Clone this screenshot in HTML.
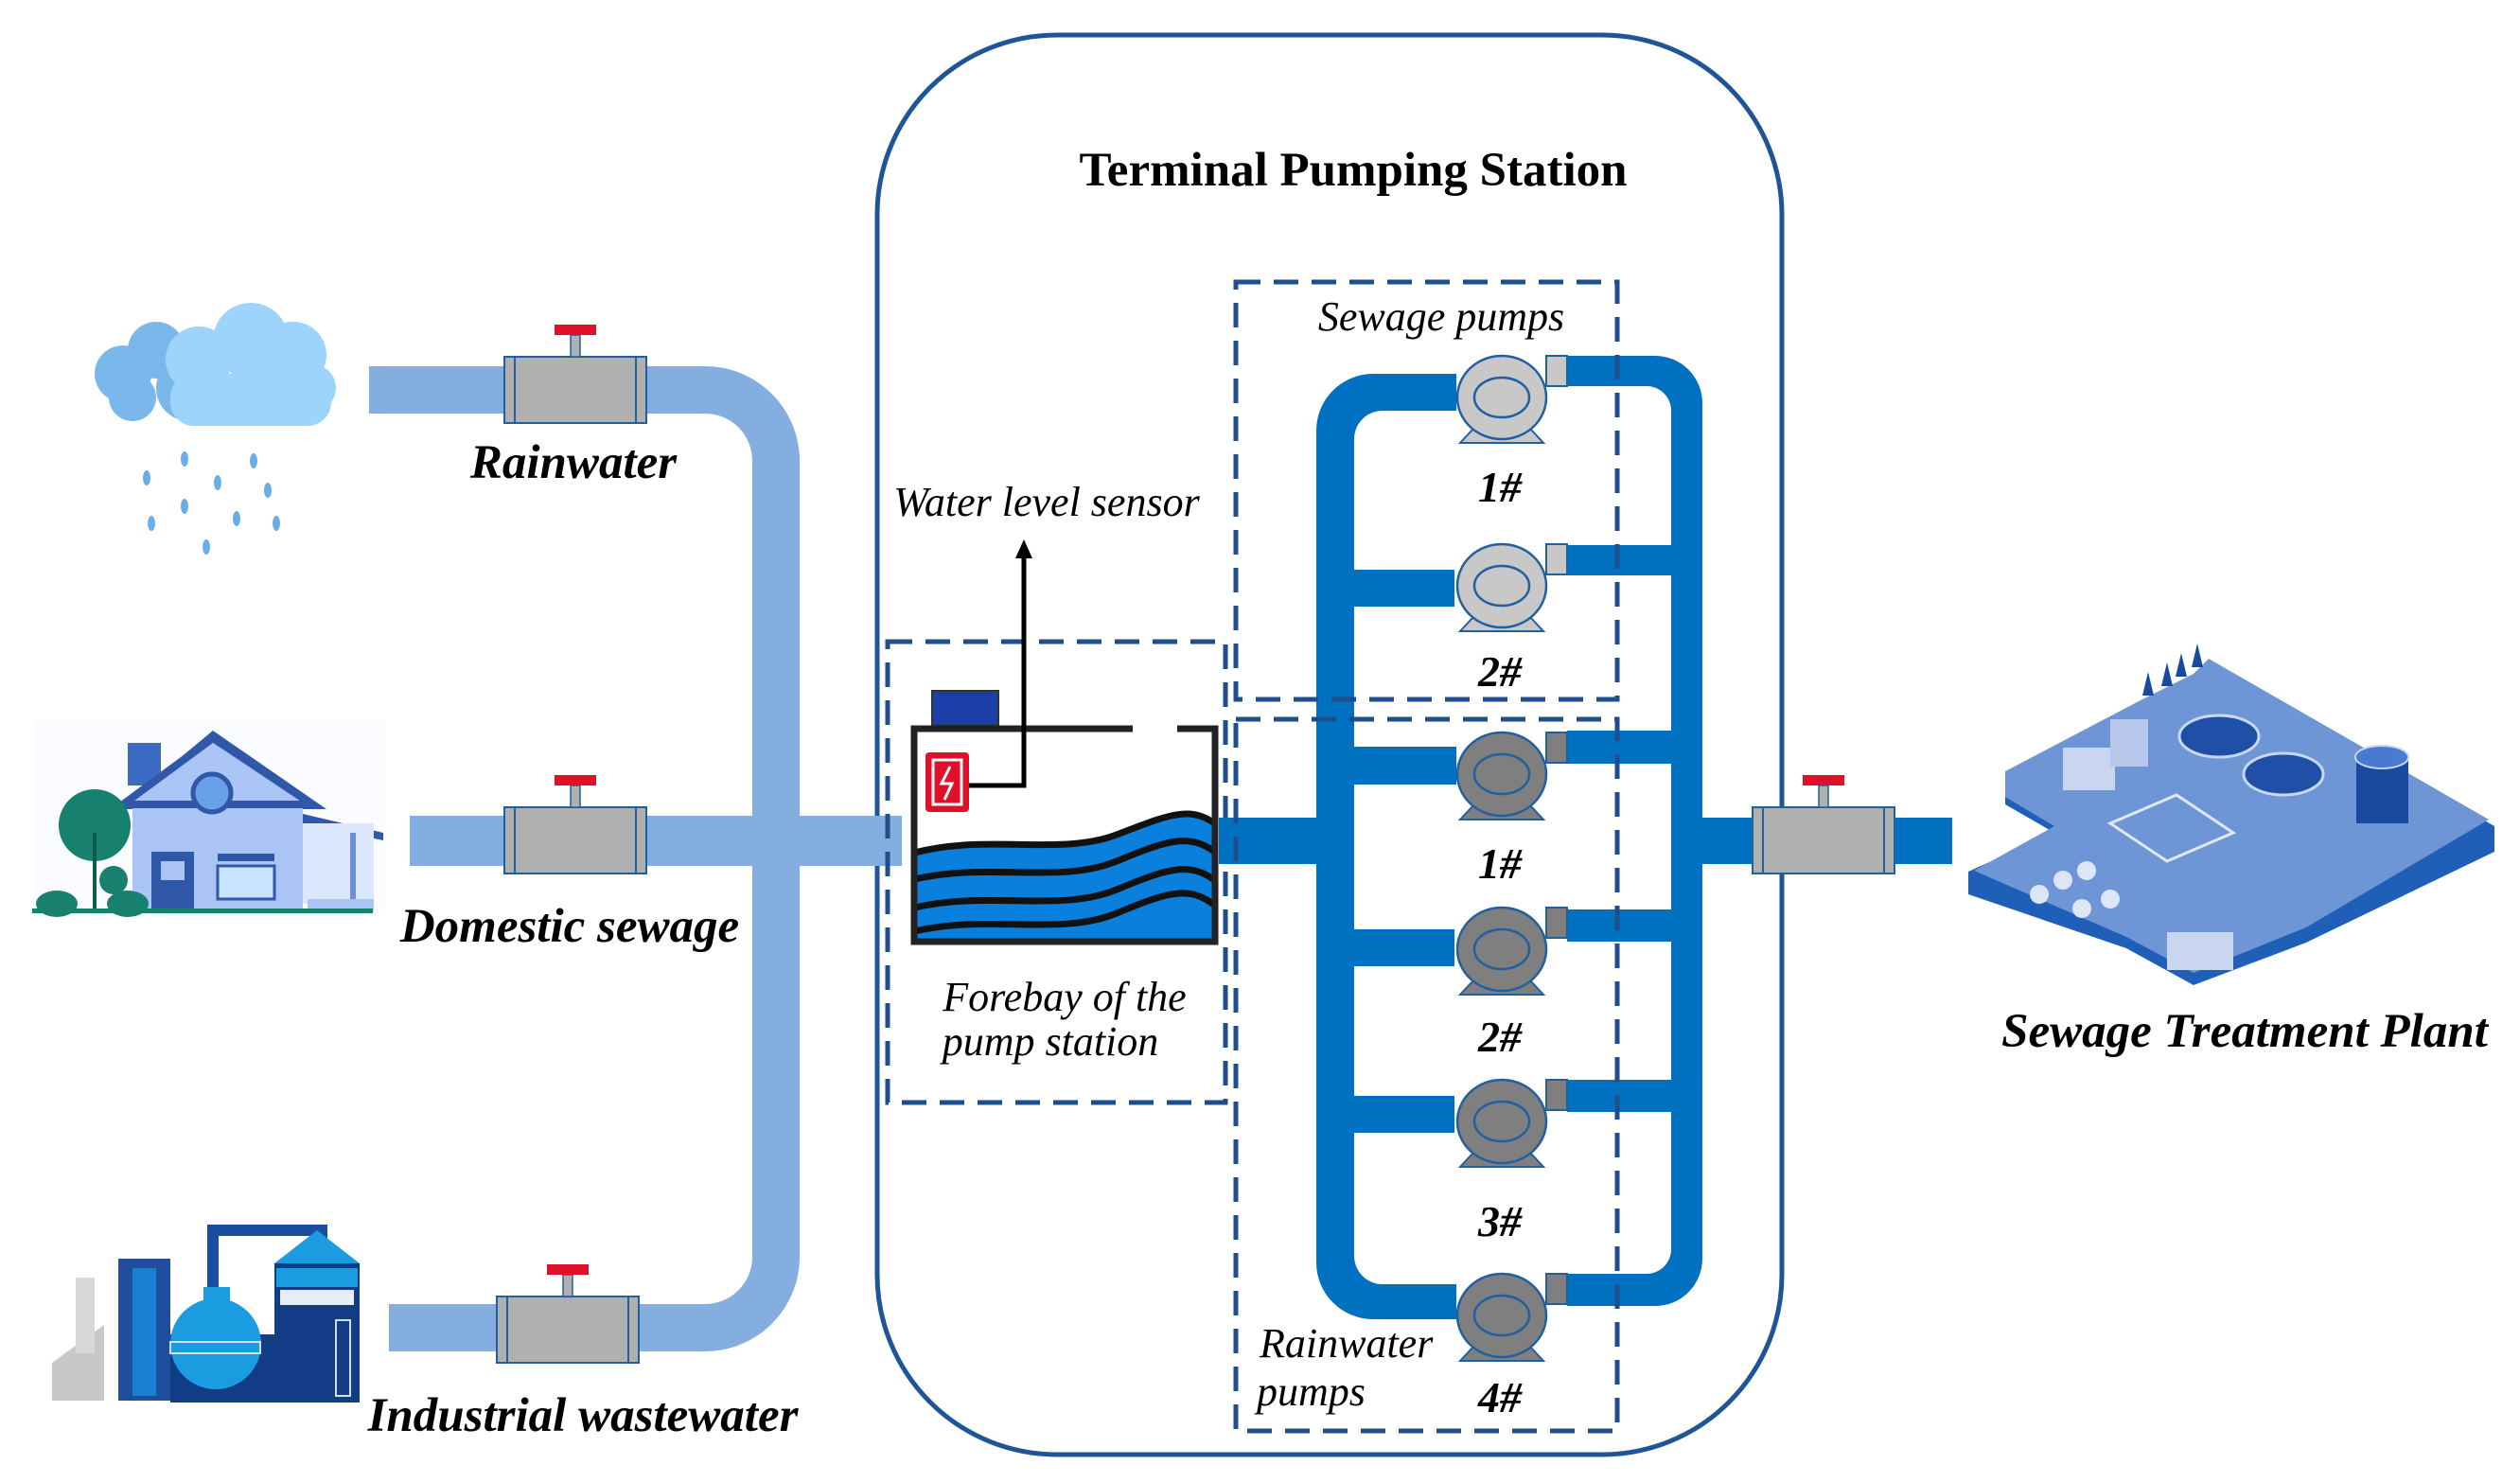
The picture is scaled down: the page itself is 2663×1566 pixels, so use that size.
<!DOCTYPE html>
<html><head><meta charset="utf-8"><style>
html,body{margin:0;padding:0;background:#fff}
svg{display:block}
svg text{font-family:"Liberation Serif","Times New Roman",serif !important}
.lbl{font-weight:bold;font-style:italic;font-size:51px;fill:#000}
.it{font-style:italic;font-size:44px;fill:#000}
.num{font-weight:bold;font-style:italic;font-size:46px;fill:#000}
</style></head><body>
<svg width="2663" height="1566" viewBox="0 0 2663 1566" xmlns="http://www.w3.org/2000/svg" font-family="Liberation Serif, serif">
<defs>
<g id="valve">
<rect x="-75" y="-35" width="150" height="70" fill="#b0b0b0" stroke="#2060a0" stroke-width="2"/>
<rect x="-75" y="-35" width="11" height="70" fill="#b0b0b0" stroke="#2060a0" stroke-width="2"/>
<rect x="64" y="-35" width="11" height="70" fill="#b0b0b0" stroke="#2060a0" stroke-width="2"/>
<rect x="-5" y="-58" width="10" height="23" fill="#b0b0b0" stroke="#2060a0" stroke-width="1.5"/>
<rect x="-22" y="-69" width="44" height="11" fill="#e0102a"/>
</g>
<g id="pumpL">
<rect x="47" y="-44" width="22" height="32" fill="#c8c8c8" stroke="#2060a0" stroke-width="2"/>
<path d="M-44 48 L-30 33 L30 33 L44 48 Z" fill="#c8c8c8" stroke="#2060a0" stroke-width="2"/>
<ellipse cx="0" cy="0" rx="47" ry="44" fill="#c8c8c8" stroke="#2060a0" stroke-width="2.5"/>
<ellipse cx="0" cy="0" rx="29" ry="21" fill="#c8c8c8" stroke="#2060a0" stroke-width="2.5"/>
</g>
<g id="pumpD">
<rect x="47" y="-44" width="22" height="32" fill="#7f7f7f" stroke="#2060a0" stroke-width="2"/>
<path d="M-44 48 L-30 33 L30 33 L44 48 Z" fill="#7f7f7f" stroke="#2060a0" stroke-width="2"/>
<ellipse cx="0" cy="0" rx="47" ry="44" fill="#7f7f7f" stroke="#2060a0" stroke-width="2.5"/>
<ellipse cx="0" cy="0" rx="29" ry="21" fill="#7f7f7f" stroke="#2060a0" stroke-width="2.5"/>
</g>
</defs>

<rect x="927" y="37" width="956" height="1500" rx="190" ry="190" fill="none" stroke="#1f5597" stroke-width="5"/>
<text x="1430" y="196" text-anchor="middle" font-family="Liberation Serif, serif" font-weight="bold" font-size="51">Terminal Pumping Station</text>

<g fill="#84aee0">
<path d="M390 387 H745 A100 100 0 0 1 845 487 V1328 A100 100 0 0 1 745 1428 H411 V1378 H745 A50 50 0 0 0 795 1328 V487 A50 50 0 0 0 745 437 H390 Z"/>
<rect x="433" y="862" width="520" height="53"/>
</g>
<use href="#valve" x="608" y="412"/>
<use href="#valve" x="608" y="888"/>
<use href="#valve" x="600" y="1405"/>
<text class="lbl" x="606" y="505" text-anchor="middle" font-family="Liberation Serif, serif">Rainwater</text>
<text class="lbl" x="602" y="995" text-anchor="middle" font-family="Liberation Serif, serif">Domestic sewage</text>
<text class="lbl" x="616" y="1512" text-anchor="middle" font-family="Liberation Serif, serif">Industrial wastewater</text>

<g>
<circle cx="130" cy="395" r="30" fill="#7ab8ec"/>
<circle cx="165" cy="370" r="30" fill="#7ab8ec"/>
<circle cx="140" cy="420" r="25" fill="#7ab8ec"/>
<circle cx="200" cy="410" r="35" fill="#7ab8ec"/>
<circle cx="210" cy="380" r="35" fill="#9dd4fb"/>
<circle cx="265" cy="360" r="40" fill="#9dd4fb"/>
<circle cx="310" cy="375" r="35" fill="#9dd4fb"/>
<circle cx="330" cy="410" r="25" fill="#9dd4fb"/>
<rect x="180" y="395" width="170" height="55" rx="25" fill="#9dd4fb"/>
</g>
<g fill="#6aaee8">
<ellipse cx="155" cy="505" rx="4" ry="8"/><ellipse cx="195" cy="485" rx="4" ry="8"/><ellipse cx="230" cy="510" rx="4" ry="8"/><ellipse cx="268" cy="487" rx="4" ry="8"/><ellipse cx="283" cy="518" rx="4" ry="8"/>
<ellipse cx="195" cy="535" rx="4" ry="8"/><ellipse cx="160" cy="553" rx="4" ry="8"/><ellipse cx="250" cy="548" rx="4" ry="8"/><ellipse cx="292" cy="553" rx="4" ry="8"/><ellipse cx="218" cy="578" rx="4" ry="8"/>
</g>

<g>
<rect x="34" y="760" width="373" height="205" fill="#fafcff"/>
<rect x="135" y="785" width="35" height="45" fill="#3b6bc2"/>
<polygon points="125,855 225,772 345,855" fill="#2f58a8"/>
<rect x="140" y="845" width="180" height="118" fill="#a9c4f5"/>
<polygon points="130,850 225,780 330,850" fill="#a9c4f5" stroke="#2f58a8" stroke-width="8"/>
<polygon points="320,860 405,880 405,888 320,870" fill="#2f58a8"/>
<rect x="320" y="870" width="75" height="85" fill="#dde8ff"/>
<rect x="370" y="880" width="6" height="75" fill="#6c8fd6"/>
<circle cx="224" cy="838" r="20" fill="#6aa0e8" stroke="#2f58a8" stroke-width="5"/>
<rect x="160" y="900" width="45" height="63" fill="#2f58a8"/>
<rect x="170" y="910" width="25" height="20" fill="#a9c4f5"/>
<rect x="230" y="902" width="60" height="8" fill="#2f58a8"/>
<rect x="230" y="915" width="60" height="35" fill="#c8e3ff" stroke="#2f58a8" stroke-width="3"/>
<rect x="325" y="950" width="70" height="12" fill="#a9c4f5"/>
<circle cx="100" cy="872" r="38" fill="#17806f"/>
<rect x="98" y="880" width="4" height="80" fill="#0d5c50"/>
<circle cx="120" cy="930" r="15" fill="#17806f"/>
<ellipse cx="60" cy="955" rx="22" ry="14" fill="#17806f"/>
<ellipse cx="135" cy="955" rx="22" ry="14" fill="#17806f"/>
<rect x="34" y="960" width="360" height="5" fill="#17806f"/>
</g>

<g>
<polygon points="55,1480 55,1440 110,1400 110,1480" fill="#c8c8c8"/>
<rect x="80" y="1350" width="20" height="80" fill="#d8d8d8"/>
<rect x="125" y="1330" width="55" height="150" fill="#1f4e9c"/>
<rect x="140" y="1340" width="25" height="135" fill="#1a7fd0"/>
<rect x="180" y="1410" width="200" height="72" fill="#123c86"/>
<path d="M225 1380 V1300 H340 V1330" fill="none" stroke="#1a4ea0" stroke-width="12"/>
<circle cx="228" cy="1420" r="48" fill="#1b9be0"/>
<rect x="215" y="1360" width="28" height="20" fill="#1b9be0"/>
<rect x="180" y="1418" width="95" height="12" fill="none" stroke="#d0e0f0" stroke-width="2"/>
<rect x="290" y="1335" width="90" height="145" fill="#123c86"/>
<polygon points="290,1335 335,1300 380,1335" fill="#1b9be0"/>
<rect x="292" y="1340" width="86" height="20" fill="#1b9be0"/>
<rect x="295" y="1362" width="80" height="18" fill="#e8eef8" stroke="#123c86" stroke-width="2"/>
<rect x="355" y="1395" width="15" height="80" fill="none" stroke="#cfe0f2" stroke-width="2"/>
</g>

<rect x="938" y="678" width="357" height="487" fill="none" stroke="#1f4e8c" stroke-width="5" stroke-dasharray="26,14"/>
<rect x="985" y="730" width="70" height="37" fill="#1b3fa8" stroke="#333" stroke-width="2"/>
<clipPath id="tk"><rect x="966" y="770" width="318" height="225"/></clipPath>
<g clip-path="url(#tk)">
<path d="M963 900 C1040 880 1120 900 1180 880 S1260 850 1290 870 V1000 H963 Z" fill="#0a7fdc"/>
<g fill="none" stroke="#111" stroke-width="7">
<path d="M963 902 C1040 880 1120 905 1180 882 S1260 850 1290 875"/>
<path d="M963 930 C1040 910 1120 935 1180 910 S1260 880 1290 905"/>
<path d="M963 960 C1040 940 1120 965 1180 940 S1260 910 1290 935"/>
<path d="M963 985 C1040 965 1120 990 1180 965 S1260 935 1290 962"/>
</g>
</g>
<path d="M1197 770 H966 V995 H1284 V770 H1244" fill="none" stroke="#222" stroke-width="7"/>
<rect x="978" y="795" width="46" height="63" rx="4" fill="#e0102a"/>
<rect x="986" y="803" width="30" height="47" fill="none" stroke="#fff" stroke-width="3"/>
<path d="M1004 810 L995 828 H1006 L998 845" fill="none" stroke="#fff" stroke-width="3"/>
<path d="M1024 830 H1082 V585" fill="none" stroke="#000" stroke-width="5"/>
<polygon points="1082,570 1073,590 1091,590" fill="#000"/>
<text class="it" x="1106" y="545" text-anchor="middle" font-family="Liberation Serif, serif">Water level sensor</text>
<text class="it" x="1125" y="1068" text-anchor="middle" font-family="Liberation Serif, serif">Forebay of the</text>
<text class="it" x="1110" y="1115" text-anchor="middle" font-family="Liberation Serif, serif">pump station</text>

<g fill="#0070c0">
<rect x="1288" y="864" width="110" height="49"/>
<path d="M1539 395 H1451 A60 60 0 0 0 1391 455 V1334 A60 60 0 0 0 1451 1394 H1539 V1357 H1461 A30 30 0 0 1 1431 1327 V464 A30 30 0 0 1 1461 434 H1539 Z"/>
<rect x="1431" y="602" width="106" height="39"/>
<rect x="1431" y="789" width="108" height="40"/>
<rect x="1431" y="982" width="106" height="39"/>
<rect x="1431" y="1158" width="106" height="39"/>
<path d="M1656 376 H1749 A50 50 0 0 1 1799 426 V1330 A50 50 0 0 1 1749 1380 H1656 V1346 H1740 A26 26 0 0 0 1766 1320 V434 A26 26 0 0 0 1740 408 H1656 Z"/>
<rect x="1656" y="576" width="112" height="32"/>
<rect x="1656" y="772" width="112" height="35"/>
<rect x="1656" y="961" width="112" height="34"/>
<rect x="1656" y="1141" width="112" height="34"/>
<rect x="1797" y="864" width="266" height="49"/>
</g>
<use href="#valve" x="1927" y="888"/>

<use href="#pumpL" x="1587" y="420"/>
<use href="#pumpL" x="1587" y="619"/>
<use href="#pumpD" x="1587" y="818"/>
<use href="#pumpD" x="1587" y="1003"/>
<use href="#pumpD" x="1587" y="1185"/>
<use href="#pumpD" x="1587" y="1390"/>
<g font-family="Liberation Serif, serif">
<text class="num" x="1585" y="530" text-anchor="middle">1#</text>
<text class="num" x="1585" y="725" text-anchor="middle">2#</text>
<text class="num" x="1585" y="928" text-anchor="middle">1#</text>
<text class="num" x="1585" y="1111" text-anchor="middle">2#</text>
<text class="num" x="1585" y="1306" text-anchor="middle">3#</text>
<text class="num" x="1585" y="1492" text-anchor="middle">4#</text>
</g>

<rect x="1306" y="298" width="403" height="441" fill="none" stroke="#1f4e8c" stroke-width="5" stroke-dasharray="26,14"/>
<rect x="1306" y="760" width="403" height="752" fill="none" stroke="#1f4e8c" stroke-width="5" stroke-dasharray="26,14"/>
<text class="it" x="1523" y="349" text-anchor="middle" font-family="Liberation Serif, serif">Sewage pumps</text>
<text class="it" x="1331" y="1434" font-family="Liberation Serif, serif">Rainwater</text>
<text class="it" x="1328" y="1485" font-family="Liberation Serif, serif">pumps</text>

<g>
<polygon points="2119,822 2262,746 2318,717 2334,701 2636,873 2636,900 2437,996 2318,1041 2247,1002 2080,945 2080,921 2171,880 2119,850" fill="#1f5fb8"/>
<polygon points="2119,815 2262,740 2318,712 2334,696 2630,866 2437,980 2318,1028 2247,990 2086,920 2171,873 2119,842" fill="#6e96d6"/>
<ellipse cx="2345" cy="778" rx="42" ry="22" fill="#1f4fa6" stroke="#c8d8f4" stroke-width="3"/>
<ellipse cx="2413" cy="818" rx="42" ry="22" fill="#1f4fa6" stroke="#c8d8f4" stroke-width="3"/>
<rect x="2490" y="800" width="55" height="70" fill="#1a4aa0"/>
<ellipse cx="2517" cy="800" rx="28" ry="12" fill="#4a7ad0" stroke="#c8d8f4" stroke-width="2"/>
<rect x="2180" y="790" width="55" height="45" fill="#c8d6f0"/>
<rect x="2230" y="760" width="40" height="50" fill="#b8c8ea"/>
<rect x="2290" y="985" width="70" height="40" fill="#c8d6f0"/>
<polygon points="2230,870 2300,840 2360,880 2290,910" fill="none" stroke="#e0e8f8" stroke-width="3"/>
<g fill="#dde6f7"><circle cx="2155" cy="945" r="10"/><circle cx="2180" cy="930" r="10"/><circle cx="2200" cy="960" r="10"/><circle cx="2230" cy="950" r="10"/><circle cx="2205" cy="920" r="10"/></g>
<g fill="#1a4aa0"><polygon points="2270,710 2264,735 2276,735"/><polygon points="2290,700 2284,725 2296,725"/><polygon points="2305,690 2299,715 2311,715"/><polygon points="2322,680 2316,705 2328,705"/></g>
</g>
<text class="lbl" x="2372" y="1106" text-anchor="middle" font-family="Liberation Serif, serif">Sewage Treatment Plant</text>
</svg>
</body></html>
